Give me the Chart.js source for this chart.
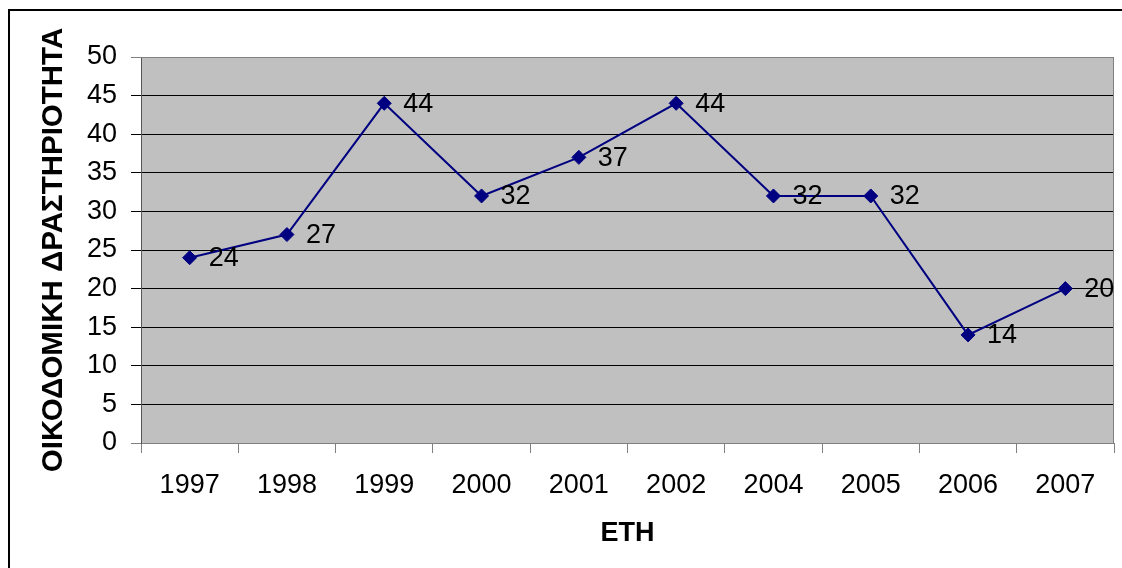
<!DOCTYPE html>
<html>
<head>
<meta charset="utf-8">
<script src="https://cdn.jsdelivr.net/npm/chart.js@4.4.0/dist/chart.umd.min.js"></script>
<style>
html,body{margin:0;padding:0;background:#fff;}
#wrap{position:relative;width:1122px;height:568px;}
</style>
</head>
<body>
<div id="wrap"><canvas id="c" width="1122" height="568"></canvas></div>
<script>
const categories = ['1997','1998','1999','2000','2001','2002','2004','2005','2006','2007'];
const values = [24, 27, 44, 32, 37, 44, 32, 32, 14, 20];
const yTitle = 'ΟΙΚΟΔΟΜΙΚΗ ΔΡΑΣΤΗΡΙΟΤΗΤΑ';
const xTitle = 'ΕΤΗ';

const FONT = '"Liberation Sans", Arial, sans-serif';

const decor = {
  id: 'decor',
  beforeDraw(chart) {
    const {ctx, chartArea: a} = chart;
    ctx.save();
    ctx.fillStyle = '#fff';
    ctx.fillRect(0, 0, chart.width, chart.height);
    ctx.fillStyle = '#C0C0C0';
    ctx.fillRect(a.left, a.top, a.right - a.left, a.bottom - a.top);
    ctx.strokeStyle = '#000';
    ctx.lineWidth = 2;
    ctx.beginPath();
    ctx.moveTo(9, chart.height + 2);
    ctx.lineTo(9, 10);
    ctx.lineTo(chart.width + 2, 10);
    ctx.stroke();
    ctx.restore();
  },
  afterDatasetsDraw(chart) {
    const {ctx, chartArea: a} = chart;
    ctx.save();
    ctx.strokeStyle = '#808080';
    ctx.lineWidth = 1;
    ctx.beginPath();
    ctx.moveTo(a.left, a.top + 0.5);
    ctx.lineTo(a.right - 0.5, a.top + 0.5);
    ctx.lineTo(a.right - 0.5, a.bottom);
    ctx.stroke();
    ctx.restore();
  },
  afterDraw(chart) {
    const {ctx} = chart;
    const meta = chart.getDatasetMeta(0);
    ctx.save();
    ctx.fillStyle = '#000';
    ctx.font = '27px ' + FONT;
    ctx.textAlign = 'left';
    ctx.textBaseline = 'middle';
    meta.data.forEach((pt, i) => {
      ctx.fillText(String(values[i]), pt.x + 19, pt.y + 1);
    });
    ctx.restore();
  }
};

new Chart(document.getElementById('c'), {
  type: 'line',
  data: {
    labels: categories,
    datasets: [{
      data: values,
      borderColor: '#000080',
      backgroundColor: '#000080',
      borderWidth: 2,
      pointStyle: 'rectRot',
      pointRadius: 7,
      pointBorderWidth: 1,
      pointBackgroundColor: '#000080',
      pointBorderColor: '#000080',
      tension: 0,
      fill: false
    }]
  },
  options: {
    responsive: false,
    animation: false,
    devicePixelRatio: 1,
    layout: { padding: { top: 57, right: 3, left: 0, bottom: 0 } },
    plugins: { legend: { display: false }, tooltip: { enabled: false } },
    scales: {
      x: {
        offset: true,
        grid: { offset: true, drawOnChartArea: false, drawTicks: true, tickLength: 10, color: '#808080' },
        border: { color: '#808080', width: 1 },
        ticks: { color: '#000', font: { family: FONT, size: 27 }, padding: 16, maxRotation: 0, autoSkip: false },
        title: { display: true, text: xTitle, color: '#000', font: { family: FONT, size: 27, weight: 'bold' }, padding: { top: 0, bottom: 18 } },
        afterFit(s) { s.height = 125; }
      },
      y: {
        min: 0, max: 50,
        ticks: { stepSize: 5, color: '#000', font: { family: FONT, size: 27 }, padding: 14 },
        grid: {
          tickLength: 10,
          color: (c) => (c.tick && (c.tick.value === 50 || c.tick.value === 0)) ? '#808080' : '#000',
          lineWidth: 1
        },
        border: { color: '#555', width: 1 },
        title: { display: true, text: yTitle, color: '#000', font: { family: FONT, size: 29.5, weight: 'bold' }, padding: { top: 36, bottom: 0 } },
        afterFit(s) { s.width = 141; }
      }
    }
  },
  plugins: [decor]
});
</script>
</body>
</html>
